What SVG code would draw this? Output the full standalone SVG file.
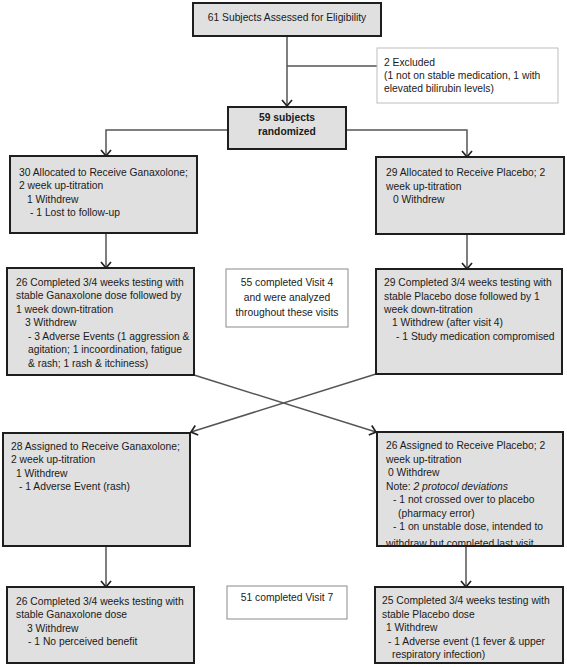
<svg xmlns="http://www.w3.org/2000/svg" width="567" height="667" viewBox="0 0 567 667">
<style>
.box{fill:#e0e0e0;stroke:#1e1e1e;stroke-width:2}
.note{fill:#ffffff;stroke:#8a8a8a;stroke-width:1}
.excl{fill:#ffffff;stroke:#bdbdbd;stroke-width:1}
text{font-family:"Liberation Sans",Arial,sans-serif;font-size:10.3px;fill:#1a1a1a}
.c{text-anchor:middle}
.b{font-weight:bold}
.conn path{fill:none;stroke:#555555;stroke-width:1.5}
</style>
<defs>
<marker id="arr" markerWidth="12" markerHeight="12" refX="7" refY="6" orient="auto" markerUnits="userSpaceOnUse">
<path d="M1,1 L7,6 L1,11" fill="none" stroke="#222222" stroke-width="1.7"/>
</marker>
<clipPath id="clipR3"><rect x="377" y="432" width="186" height="113"/></clipPath>
</defs>

<g class="conn">
<path d="M287,36 V106" marker-end="url(#arr)"/>
<path d="M287,66 H377"/>
<path d="M228,130 H106 V156" marker-end="url(#arr)"/>
<path d="M346,130 H467 V157" marker-end="url(#arr)"/>
<path d="M106,233 V268" marker-end="url(#arr)"/>
<path d="M467,234 V269" marker-end="url(#arr)"/>
<path d="M194,375 L376,432" marker-end="url(#arr)"/>
<path d="M376,374 L191,432" marker-end="url(#arr)"/>
<path d="M106,546 V587" marker-end="url(#arr)"/>
<path d="M466,546 V587" marker-end="url(#arr)"/>
</g>

<g id="assessed">
<rect class="box" x="193" y="3" width="188" height="33"/>
<text class="c" x="287" y="21">61 Subjects Assessed for Eligibility</text>
</g>

<g id="excluded">
<rect class="excl" x="377" y="48" width="181" height="55"/>
<text x="384" y="65.5">2 Excluded</text>
<text x="384" y="78.5">(1 not on stable medication, 1 with</text>
<text x="384" y="91.5">elevated bilirubin levels)</text>
</g>

<g id="randomized">
<rect class="box" x="228" y="107" width="118" height="42"/>
<text class="c b" x="287" y="121">59 subjects</text>
<text class="c b" x="287" y="135">randomized</text>
</g>

<g id="alloc-gnx">
<rect class="box" x="10" y="156" width="187" height="77"/>
<text x="19" y="175.5">30 Allocated to Receive Ganaxolone;</text>
<text x="19" y="189">2 week up-titration</text>
<text x="27" y="202.5">1 Withdrew</text>
<text x="30" y="216">- 1 Lost to follow-up</text>
</g>

<g id="alloc-pbo">
<rect class="box" x="376" y="157" width="188" height="77"/>
<text x="386" y="176">29 Allocated to Receive Placebo; 2</text>
<text x="386" y="189.5">week up-titration</text>
<text x="393" y="202.5">0 Withdrew</text>
</g>

<g id="completed-gnx-1">
<rect class="box" x="7" y="268" width="187" height="107"/>
<text x="16" y="285.5">26 Completed 3/4 weeks testing with</text>
<text x="16" y="299">stable Ganaxolone dose followed by</text>
<text x="16" y="312.5">1 week down-titration</text>
<text x="25" y="326">3 Withdrew</text>
<text x="28" y="339.5">- 3 Adverse Events (1 aggression &amp;</text>
<text x="28" y="353">agitation; 1 incoordination, fatigue</text>
<text x="28" y="366.5">&amp; rash; 1 rash &amp; itchiness)</text>
</g>

<g id="visit4">
<rect class="note" x="226" y="269" width="122" height="58"/>
<text class="c" x="287" y="286">55 completed Visit 4</text>
<text class="c" x="287" y="301">and were analyzed</text>
<text class="c" x="287" y="316">throughout these visits</text>
</g>

<g id="completed-pbo-1">
<rect class="box" x="376" y="269" width="186" height="105"/>
<text x="384" y="286">29 Completed 3/4 weeks testing with</text>
<text x="384" y="299.5">stable Placebo dose followed by 1</text>
<text x="384" y="312.5">week down-titration</text>
<text x="392" y="326">1 Withdrew (after visit 4)</text>
<text x="396" y="339.5">- 1 Study medication compromised</text>
</g>

<g id="assigned-gnx">
<rect class="box" x="3" y="433" width="187" height="113"/>
<text x="11" y="449.5">28 Assigned to Receive Ganaxolone;</text>
<text x="11" y="463">2 week up-titration</text>
<text x="16" y="476.5">1 Withdrew</text>
<text x="19" y="490">- 1 Adverse Event (rash)</text>
</g>

<g id="assigned-pbo">
<rect class="box" x="377" y="432" width="186" height="114"/>
<g clip-path="url(#clipR3)">
<text x="386" y="449">26 Assigned to Receive Placebo; 2</text>
<text x="386" y="462.5">week up-titration</text>
<text x="388" y="476">0 Withdrew</text>
<text x="386" y="489.5">Note: <tspan font-style="italic">2 protocol deviations</tspan></text>
<text x="393" y="503">- 1 not crossed over to placebo</text>
<text x="398" y="516.5">(pharmacy error)</text>
<text x="393" y="530">- 1 on unstable dose, intended to</text>
<text x="386" y="547">withdraw but completed last visit</text>
</g>
<rect x="377" y="432" width="186" height="114" fill="none" stroke="#1e1e1e" stroke-width="2"/>
</g>

<g id="completed-gnx-2">
<rect class="box" x="7" y="587" width="187" height="76"/>
<text x="16" y="604.5">26 Completed 3/4 weeks testing with</text>
<text x="16" y="618">stable Ganaxolone dose</text>
<text x="27" y="631.5">3 Withdrew</text>
<text x="28" y="645">- 1 No perceived benefit</text>
</g>

<g id="visit7">
<rect class="note" x="227" y="586" width="120" height="33"/>
<text class="c" x="287" y="600.5">51 completed Visit 7</text>
</g>

<g id="completed-pbo-2">
<rect class="box" x="375" y="587" width="188" height="76"/>
<text x="382" y="604">25 Completed 3/4 weeks testing with</text>
<text x="382" y="617.5">stable Placebo dose</text>
<text x="386" y="631">1 Withdrew</text>
<text x="388" y="644.5">- 1 Adverse event (1 fever &amp; upper</text>
<text x="392" y="658">respiratory infection)</text>
</g>
</svg>
